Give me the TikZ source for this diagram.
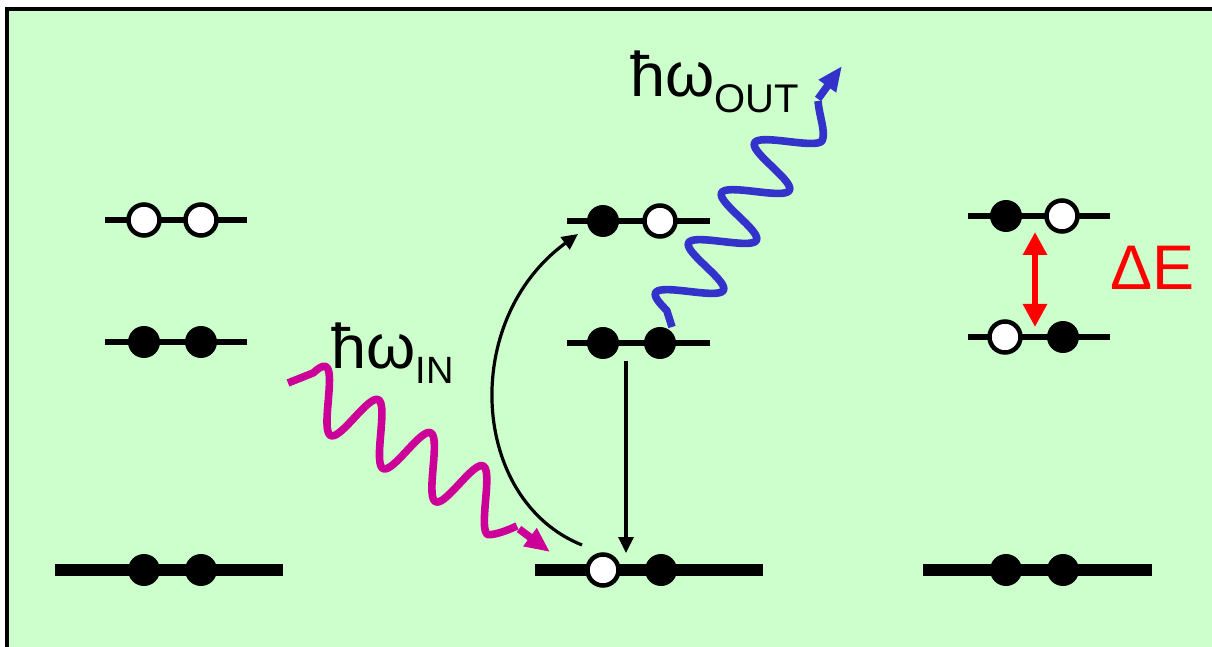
\documentclass[tikz,border=0pt]{standalone}
\usepackage{fontspec}
\setmainfont{Liberation Sans}
\usetikzlibrary{arrows.meta}
\definecolor{bggreen}{RGB}{204,255,204}
\definecolor{photonin}{RGB}{204,0,153}
\definecolor{photonout}{RGB}{51,51,204}
\begin{document}
\begin{tikzpicture}[x=0.5pt,y=-0.5pt,
  thinlevel/.style={line width=2.75pt},
  thicklevel/.style={line width=6pt},
  full/.style={circle,fill=black,inner sep=0pt,minimum size=16pt},
  hole/.style={circle,draw=black,fill=white,line width=2.25pt,inner sep=0pt,minimum size=15.5pt},
  wavein/.style={photonin,line width=3.8pt,line join=round},
  waveout/.style={photonout,line width=3.8pt,line join=round},
  transition/.style={black,line width=1.6pt,-{Triangle[length=8pt,width=7.5pt]}},
  label/.style={anchor=base west,inner sep=0pt,font=\fontsize{31.5}{31.5}\selectfont}]
\useasboundingbox (0,0) rectangle (1212,647);
\clip (0,0) rectangle (1212,647);
\fill[bggreen] (7,9) rectangle (1300,720);
\draw[black,line width=2pt] (7,720) -- (7,9) -- (1300,9);

% left column
\draw[thinlevel] (105,220) -- (247,220);
\draw[thinlevel] (105,342) -- (247,342);
\draw[thicklevel] (55,570) -- (283,570);
\node[hole] (l1a) at (144,220) {};
\node[hole] (l1b) at (201,220) {};
\node[full] (l2a) at (144,342) {};
\node[full] (l2b) at (201,342) {};
\node[full] (l3a) at (144,570) {};
\node[full] (l3b) at (201,570) {};

% middle column
\draw[thinlevel] (567,221) -- (710,221);
\draw[thinlevel] (567,343) -- (710,343);
\draw[thicklevel] (535,570) -- (763,570);
\node[full] (m1a) at (603,221) {};
\node[hole] (m1b) at (660,221) {};
\node[full] (m2a) at (603,343) {};
\node[full] (m2b) at (660,343) {};
\node[hole] (m3a) at (603,570) {};
\node[full] (m3b) at (661,570) {};

% right column
\draw[thinlevel] (968,216) -- (1110,216);
\draw[thinlevel] (968,337) -- (1110,337);
\draw[thicklevel] (923,570) -- (1152,570);
\node[full] (r1a) at (1006,216) {};
\node[hole] (r1b) at (1062,216) {};
\node[hole] (r2a) at (1005,337) {};
\node[full] (r2b) at (1063,337) {};
\node[full] (r3a) at (1006,570) {};
\node[full] (r3b) at (1063,570) {};

% transitions
\coordinate (cs) at (582,545);
\coordinate (ce) at (578,234);
\draw[transition] (cs) .. controls (470,500) and (460,320) .. (ce);
\coordinate (ds) at (626,361);
\coordinate (de) at (626,553);
\draw[transition] (ds) -- (de);

% incoming photon
\coordinate (ws) at (288,383);
\coordinate (we) at (517,526);
\draw[wavein] (ws) -- plot[domain=6:232.5,samples=140,variable=\s]
  ({302+0.846*\s+11*sin(\s*5.80645)},{384.5+0.534*\s-26*sin(\s*5.80645)})
  .. controls (496,535) and (508,530) .. (we);
\coordinate (as) at (519,529);
\coordinate (at) at (550,552);
\draw[wavein,-{Triangle[length=12.5pt,width=10.5pt]}] (as) -- (at);

% outgoing photon
\coordinate (bs) at (672,327);
\coordinate (be) at (818,101);
\draw[waveout] (bs) -- plot[domain=3:225,samples=140,variable=\s]
  ({673+0.55*\s-25.5*sin(\s*6)},{316.5-0.833*\s-11.5*sin(\s*6)})
  .. controls (826,132) and (819,115) .. (be);
\coordinate (bas) at (818,99);
\coordinate (bat) at (842,66);
\draw[waveout,-{Triangle[length=12.5pt,width=10pt]}] (bas) -- (bat);

% energy gap
\coordinate (gt) at (1035,232);
\coordinate (gb) at (1035,327);
\draw[red,line width=3pt,{Triangle[length=11.5pt,width=11.5pt]}-{Triangle[length=11.5pt,width=11.5pt]}] (gt) -- (gb);

% labels
\node[label] (tin) at (331,368) {ħω\raisebox{-7.5pt}{\fontsize{19}{19}\selectfont IN}};
\node[label] (tout) at (630,97) {ħω\raisebox{-8pt}{\fontsize{20}{20}\selectfont OUT}};
\node[label,text=red,font=\fontsize{31.5}{31.5}\selectfont] (tde) at (1110,290) {ΔE};
\end{tikzpicture}
\end{document}
